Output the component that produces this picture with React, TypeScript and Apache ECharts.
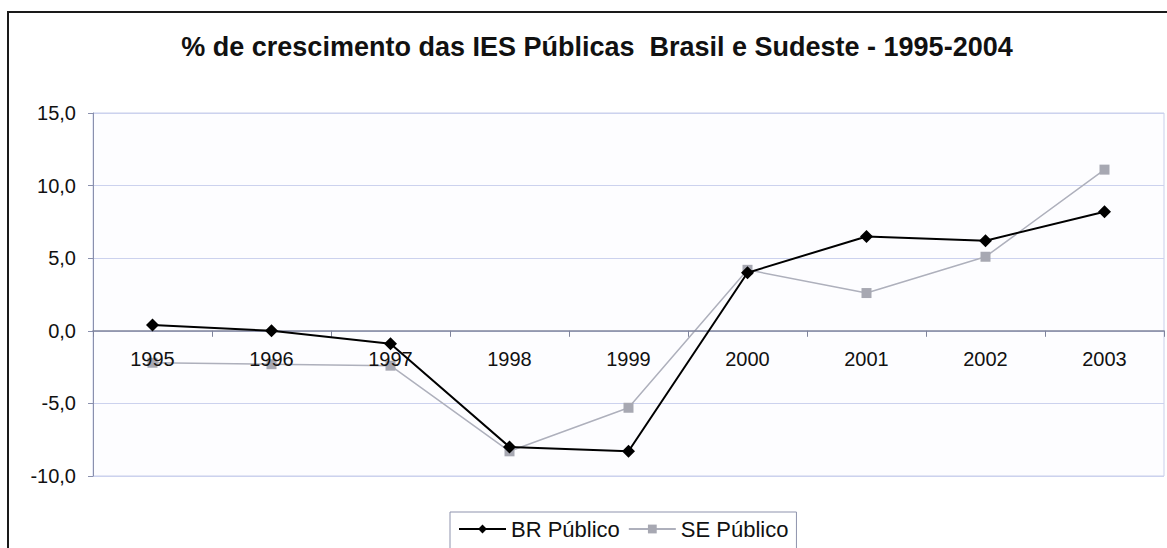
import React, { useEffect, useRef } from "react";
import * as echarts from "echarts";

const categories = ["1995", "1996", "1997", "1998", "1999", "2000", "2001", "2002", "2003"];
const brPublico = [0.4, 0.0, -0.9, -8.0, -8.3, 4.0, 6.5, 6.2, 8.2];
const sePublico = [-2.2, -2.3, -2.4, -8.3, -5.3, 4.2, 2.6, 5.1, 11.1];
const titleText = "% de crescimento das IES Públicas  Brasil e Sudeste - 1995-2004";
const seriesNames = ["BR Público", "SE Público"];

const FONT = "'Liberation Sans', Arial, Helvetica, sans-serif";

const Y_MIN = -10;
const Y_MAX = 15;
const GRID_TOP = 113;
const GRID_BOTTOM = 72;
const CHART_H = 548;

export default function App() {
  const ref = useRef<HTMLDivElement>(null);
  useEffect(() => {
    if (!ref.current) return;
    const chart = echarts.init(ref.current, null, { renderer: "svg" });
    // shift the category axis so it sits on the value 0
    const plotH = CHART_H - GRID_TOP - GRID_BOTTOM;
    const zeroOffset = -(plotH * (0 - Y_MIN)) / (Y_MAX - Y_MIN);
    chart.setOption({
      animation: false,
      backgroundColor: "#ffffff",
      title: {
        text: titleText,
        left: 597,
        textAlign: "center",
        top: 33,
        padding: 0,
        textStyle: { fontFamily: FONT, fontSize: 27, fontWeight: "bold", color: "#111" },
      },
      graphic: [
        {
          type: "rect",
          shape: { x: 8, y: 12, width: 1200, height: 600 },
          style: { fill: "none", stroke: "#1a1a1a", lineWidth: 2 },
          z: 100,
        },
      ],
      legend: {
        data: seriesNames,
        left: 450,
        top: 512,
        orient: "horizontal",
        itemWidth: 47,
        itemHeight: 11,
        itemGap: 8,
        padding: [6, 8, 24, 8],
        borderColor: "#8e93ad",
        borderWidth: 1,
        textStyle: { fontFamily: FONT, fontSize: 22, color: "#111" },
      },
      grid: {
        left: 93,
        right: 3,
        top: GRID_TOP,
        bottom: GRID_BOTTOM,
        show: true,
        borderColor: "#c9cfea",
        borderWidth: 1,
        backgroundColor: "#fdfdff",
      },
      xAxis: {
        type: "category",
        data: categories,
        boundaryGap: true,
        offset: zeroOffset,
        z: 2.5,
        axisLine: { onZero: false, lineStyle: { color: "#7f849c", width: 1.5 } },
        axisTick: { show: true, length: 6, lineStyle: { color: "#7f849c" } },
        axisLabel: { fontFamily: FONT, fontSize: 20, color: "#111", margin: 18 },
        splitLine: { show: false },
      },
      yAxis: {
        type: "value",
        min: Y_MIN,
        max: Y_MAX,
        interval: 5,
        axisLine: { show: true, lineStyle: { color: "#8a90ad" } },
        axisTick: { show: true, length: 5, lineStyle: { color: "#8a90ad" } },
        axisLabel: {
          fontFamily: FONT,
          fontSize: 20,
          color: "#111",
          margin: 17,
          formatter: (v: number) => v.toFixed(1).replace(".", ","),
        },
        splitLine: { show: true, lineStyle: { color: "#ccd2ee", width: 1 } },
      },
      series: [
        {
          name: seriesNames[1],
          type: "line",
          data: sePublico,
          symbol: "rect",
          symbolSize: 10,
          itemStyle: { color: "#a7a8b2" },
          lineStyle: { color: "#aeb0bc", width: 1.5 },
          z: 2,
        },
        {
          name: seriesNames[0],
          type: "line",
          data: brPublico,
          symbol: "diamond",
          symbolSize: 13,
          itemStyle: { color: "#000000" },
          lineStyle: { color: "#000000", width: 2 },
          z: 3,
        },
      ],
    });
    return () => chart.dispose();
  }, []);
  return (
    <div
      ref={ref}
      style={{ position: "fixed", left: 0, top: 0, width: 1167, height: 548 }}
    />
  );
}
